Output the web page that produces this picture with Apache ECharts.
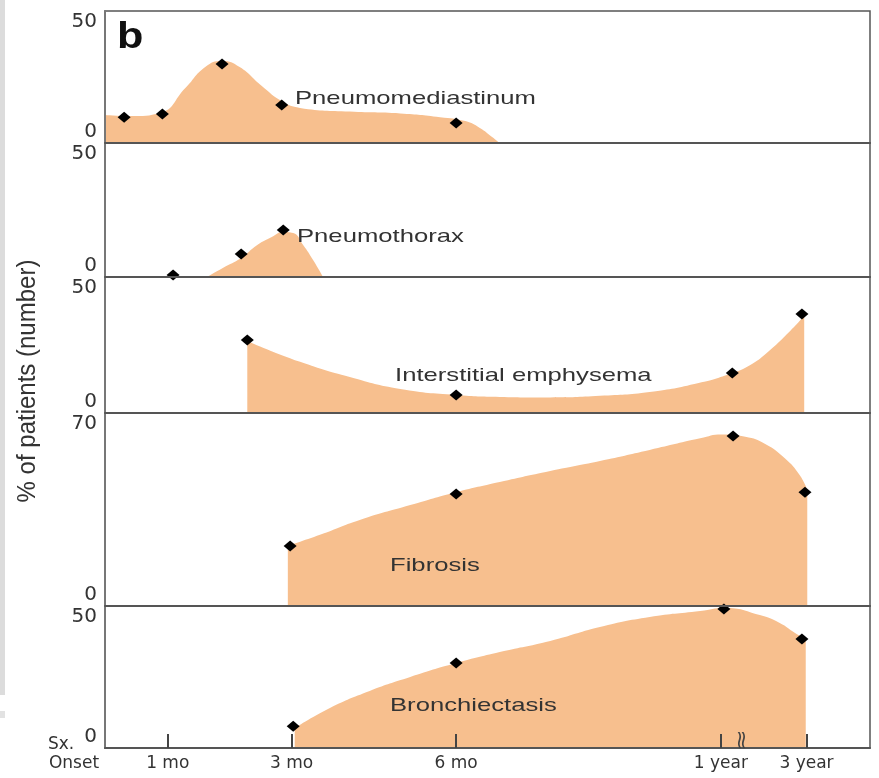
<!DOCTYPE html>
<html><head><meta charset="utf-8">
<script src="https://cdn.jsdelivr.net/npm/echarts@6/dist/echarts.min.js"></script>
<style>html,body{margin:0;padding:0;background:#fff}#c{width:879px;height:778px}</style>
</head><body><div id="c"></div>
<script>
// ---------- DATA ----------
// x positions are in axis units (0 = symptom onset, 100 = right edge of the time axis)
const xTickPos = [8.2, 24.4, 45.9, 80.5, 91.7];
const xTickLabels = ['1 mo', '3 mo', '6 mo', '1 year', '3 year'];
const xOriginLabel = 'Onset';
const xOriginTop = 'Sx.';
const breakPos = 83.3;

const panelNames = ['Pneumomediastinum', 'Pneumothorax', 'Interstitial emphysema', 'Fibrosis', 'Bronchiectasis'];
const yMaxes = [50, 50, 50, 70, 50];

const pneumomediastinumPoints = [[2.5, 9.8], [7.5, 11.0], [15.3, 29.9], [23.1, 14.4], [45.9, 7.6]];
const pneumomediastinumCurve = [[0, 10.6], [3.3, 10.2], [7.2, 11.4], [10.5, 20.8], [13.1, 28.8], [15.3, 31.1], [17.6, 28.8], [20.5, 21.6], [23.1, 15.9], [25.5, 13.3], [32.0, 11.9], [38.6, 11.2], [43.8, 9.8], [47.1, 8.3], [49.0, 5.7], [50.6, 2.3], [51.6, 0]];

const pneumothoraxPoints = [[8.9, 0.7], [17.8, 8.6], [23.3, 17.5]];
const pneumothoraxCurve = [[13.3, 0], [15.4, 3.4], [17.8, 7.1], [19.9, 11.9], [21.8, 14.9], [23.3, 16.8], [24.6, 16.4], [25.9, 11.9], [27.2, 6.3], [28.5, 0]];

const emphysemaPoints = [[18.6, 26.8], [45.9, 6.6], [82.0, 14.7], [91.1, 36.4]];
const emphysemaCurve = [[18.6, 26.5], [25.5, 18.8], [32.0, 13.2], [38.6, 8.8], [45.9, 6.6], [51.6, 5.9], [58.2, 5.7], [64.7, 6.3], [71.2, 7.7], [77.6, 11.0], [82.0, 14.7], [84.3, 17.6], [86.5, 22.1], [88.9, 28.3], [91.4, 35.7]];

const fibrosisPoints = [[24.2, 21.8], [45.9, 40.6], [82.1, 61.7], [91.5, 41.3]];
const fibrosisCurve = [[23.9, 21.8], [28.1, 25.8], [33.3, 31.2], [39.9, 36.6], [45.9, 41.3], [51.6, 45.0], [58.2, 49.0], [64.7, 52.6], [71.2, 56.6], [77.8, 60.8], [80.6, 62.2], [83.7, 61.4], [86.3, 58.8], [88.9, 53.5], [90.8, 47.5], [91.8, 42.1]];

const bronchiectasisPoints = [[24.6, 7.7], [45.9, 29.9], [80.9, 48.9], [91.1, 38.4]];
const bronchiectasisCurve = [[24.8, 7.0], [29.4, 14.1], [34.6, 20.1], [39.9, 25.0], [45.9, 29.9], [51.6, 33.8], [58.2, 37.7], [64.7, 42.6], [71.2, 46.1], [77.8, 48.2], [81.0, 49.3], [85.6, 46.8], [88.2, 44.0], [90.2, 40.5], [91.6, 38.4]];

const yTitle = '% of patients (number)';
const panelLetter = 'b';

// ---------- CHART ----------
const pointsList = [pneumomediastinumPoints, pneumothoraxPoints, emphysemaPoints, fibrosisPoints, bronchiectasisPoints];
const curveList = [pneumomediastinumCurve, pneumothoraxCurve, emphysemaCurve, fibrosisCurve, bronchiectasisCurve];

const AREA = '#F7BF8E';
const AXIS_FONT = 'DejaVu Sans';
const gridTops = [11, 143, 277, 413, 606];
const gridHeights = [132, 134, 136, 193, 142];

const chart = echarts.init(document.getElementById('c'), null, {renderer: 'canvas'});

const grids = [], xAxes = [], yAxes = [], series = [];
for (let i = 0; i < 5; i++) {
  grids.push({left: 105, width: 765, top: gridTops[i], height: gridHeights[i],
    containLabel: false, outerBoundsMode: 'none',
    show: true, borderColor: '#555', borderWidth: 1.5, backgroundColor: 'transparent'});
  const last = i === 4;
  xAxes.push({
    type: 'value', gridIndex: i, min: 0, max: 100, z: 10,
    axisLine: {show: true, lineStyle: {color: '#555', width: 2}},
    splitLine: {show: false},
    axisTick: last ? {show: true, inside: true, length: 14, customValues: xTickPos,
      lineStyle: {color: '#444', width: 2}} : {show: false},
    axisLabel: last ? {
      show: true, customValues: [0].concat(xTickPos), margin: 7,
      fontFamily: AXIS_FONT, fontSize: 17, color: '#333',
      formatter: function (v) {
        if (v === 0) return '{o|' + xOriginLabel + '}';
        const k = xTickPos.indexOf(v);
        return k >= 0 ? xTickLabels[k] : '';
      },
      rich: {o: {padding: [0, 62, 0, 0], fontFamily: AXIS_FONT, fontSize: 17, color: '#333'}}
    } : {show: false}
  });
  const mx = yMaxes[i];
  yAxes.push({
    type: 'value', gridIndex: i, min: 0, max: mx, interval: mx, z: 10,
    axisLine: {show: true, lineStyle: {color: '#777', width: 2}},
    axisTick: {show: false}, splitLine: {show: false},
    axisLabel: {
      fontFamily: AXIS_FONT, fontSize: 20, color: '#333', margin: 8, lineHeight: 22,
      formatter: function (v) { return v === mx ? ' \n' + v : v + '\n '; }
    }
  });
  series.push({
    type: 'line', xAxisIndex: i, yAxisIndex: i, data: curveList[i],
    smooth: 0.5, showSymbol: false, symbol: 'none', silent: true,
    lineStyle: {width: 0, color: AREA}, areaStyle: {color: AREA, opacity: 1}, z: 2
  });
  series.push({
    type: 'scatter', xAxisIndex: i, yAxisIndex: i, data: pointsList[i],
    symbol: 'diamond', symbolSize: [13, 11], itemStyle: {color: '#000', opacity: 1}, z: 5, silent: true
  });
}

chart.setOption({
  animation: false,
  backgroundColor: '#fff',
  grid: grids, xAxis: xAxes, yAxis: yAxes, series: series
});

const bx = chart.convertToPixel({xAxisIndex: 4}, breakPos);
const labelPos = [[295, 99], [297, 237], [395, 376], [390, 566], [390, 706]];
const graphics = [
  {type: 'rect', shape: {x: 0, y: 0, width: 5, height: 695}, style: {fill: '#dcdcdc'}, silent: true},
  {type: 'rect', shape: {x: 0, y: 711, width: 5, height: 7}, style: {fill: '#e2e2e2'}, silent: true},
  {type: 'text', x: 117, y: 38, scaleX: 1.2, style: {text: panelLetter, font: 'bold 36px "Liberation Sans"', fill: '#111', verticalAlign: 'middle'}, z: 20},
  {type: 'text', x: 28, y: 381, rotation: Math.PI / 2, scaleY: 1.05,
    style: {text: yTitle, font: '24px "Liberation Sans"', fill: '#333', align: 'center', verticalAlign: 'middle'}, z: 20},
  {type: 'text', x: 48, y: 745, style: {text: xOriginTop, font: '17px "DejaVu Sans"', fill: '#333', verticalAlign: 'middle'}, z: 20},
  {type: 'text', x: bx, y: 740, rotation: Math.PI / 2, scaleY: 0.8,
    style: {text: '\u2248', font: '26px "DejaVu Sans"', fill: '#444', align: 'center', verticalAlign: 'middle'}, z: 20}
];
panelNames.forEach(function (n, i) {
  graphics.push({type: 'text', x: labelPos[i][0], y: labelPos[i][1], scaleX: 1.35,
    style: {text: n, font: '19px "Liberation Sans"', fill: '#333', verticalAlign: 'middle'}, z: 20});
});
chart.setOption({graphic: graphics});
</script>
</body></html>
